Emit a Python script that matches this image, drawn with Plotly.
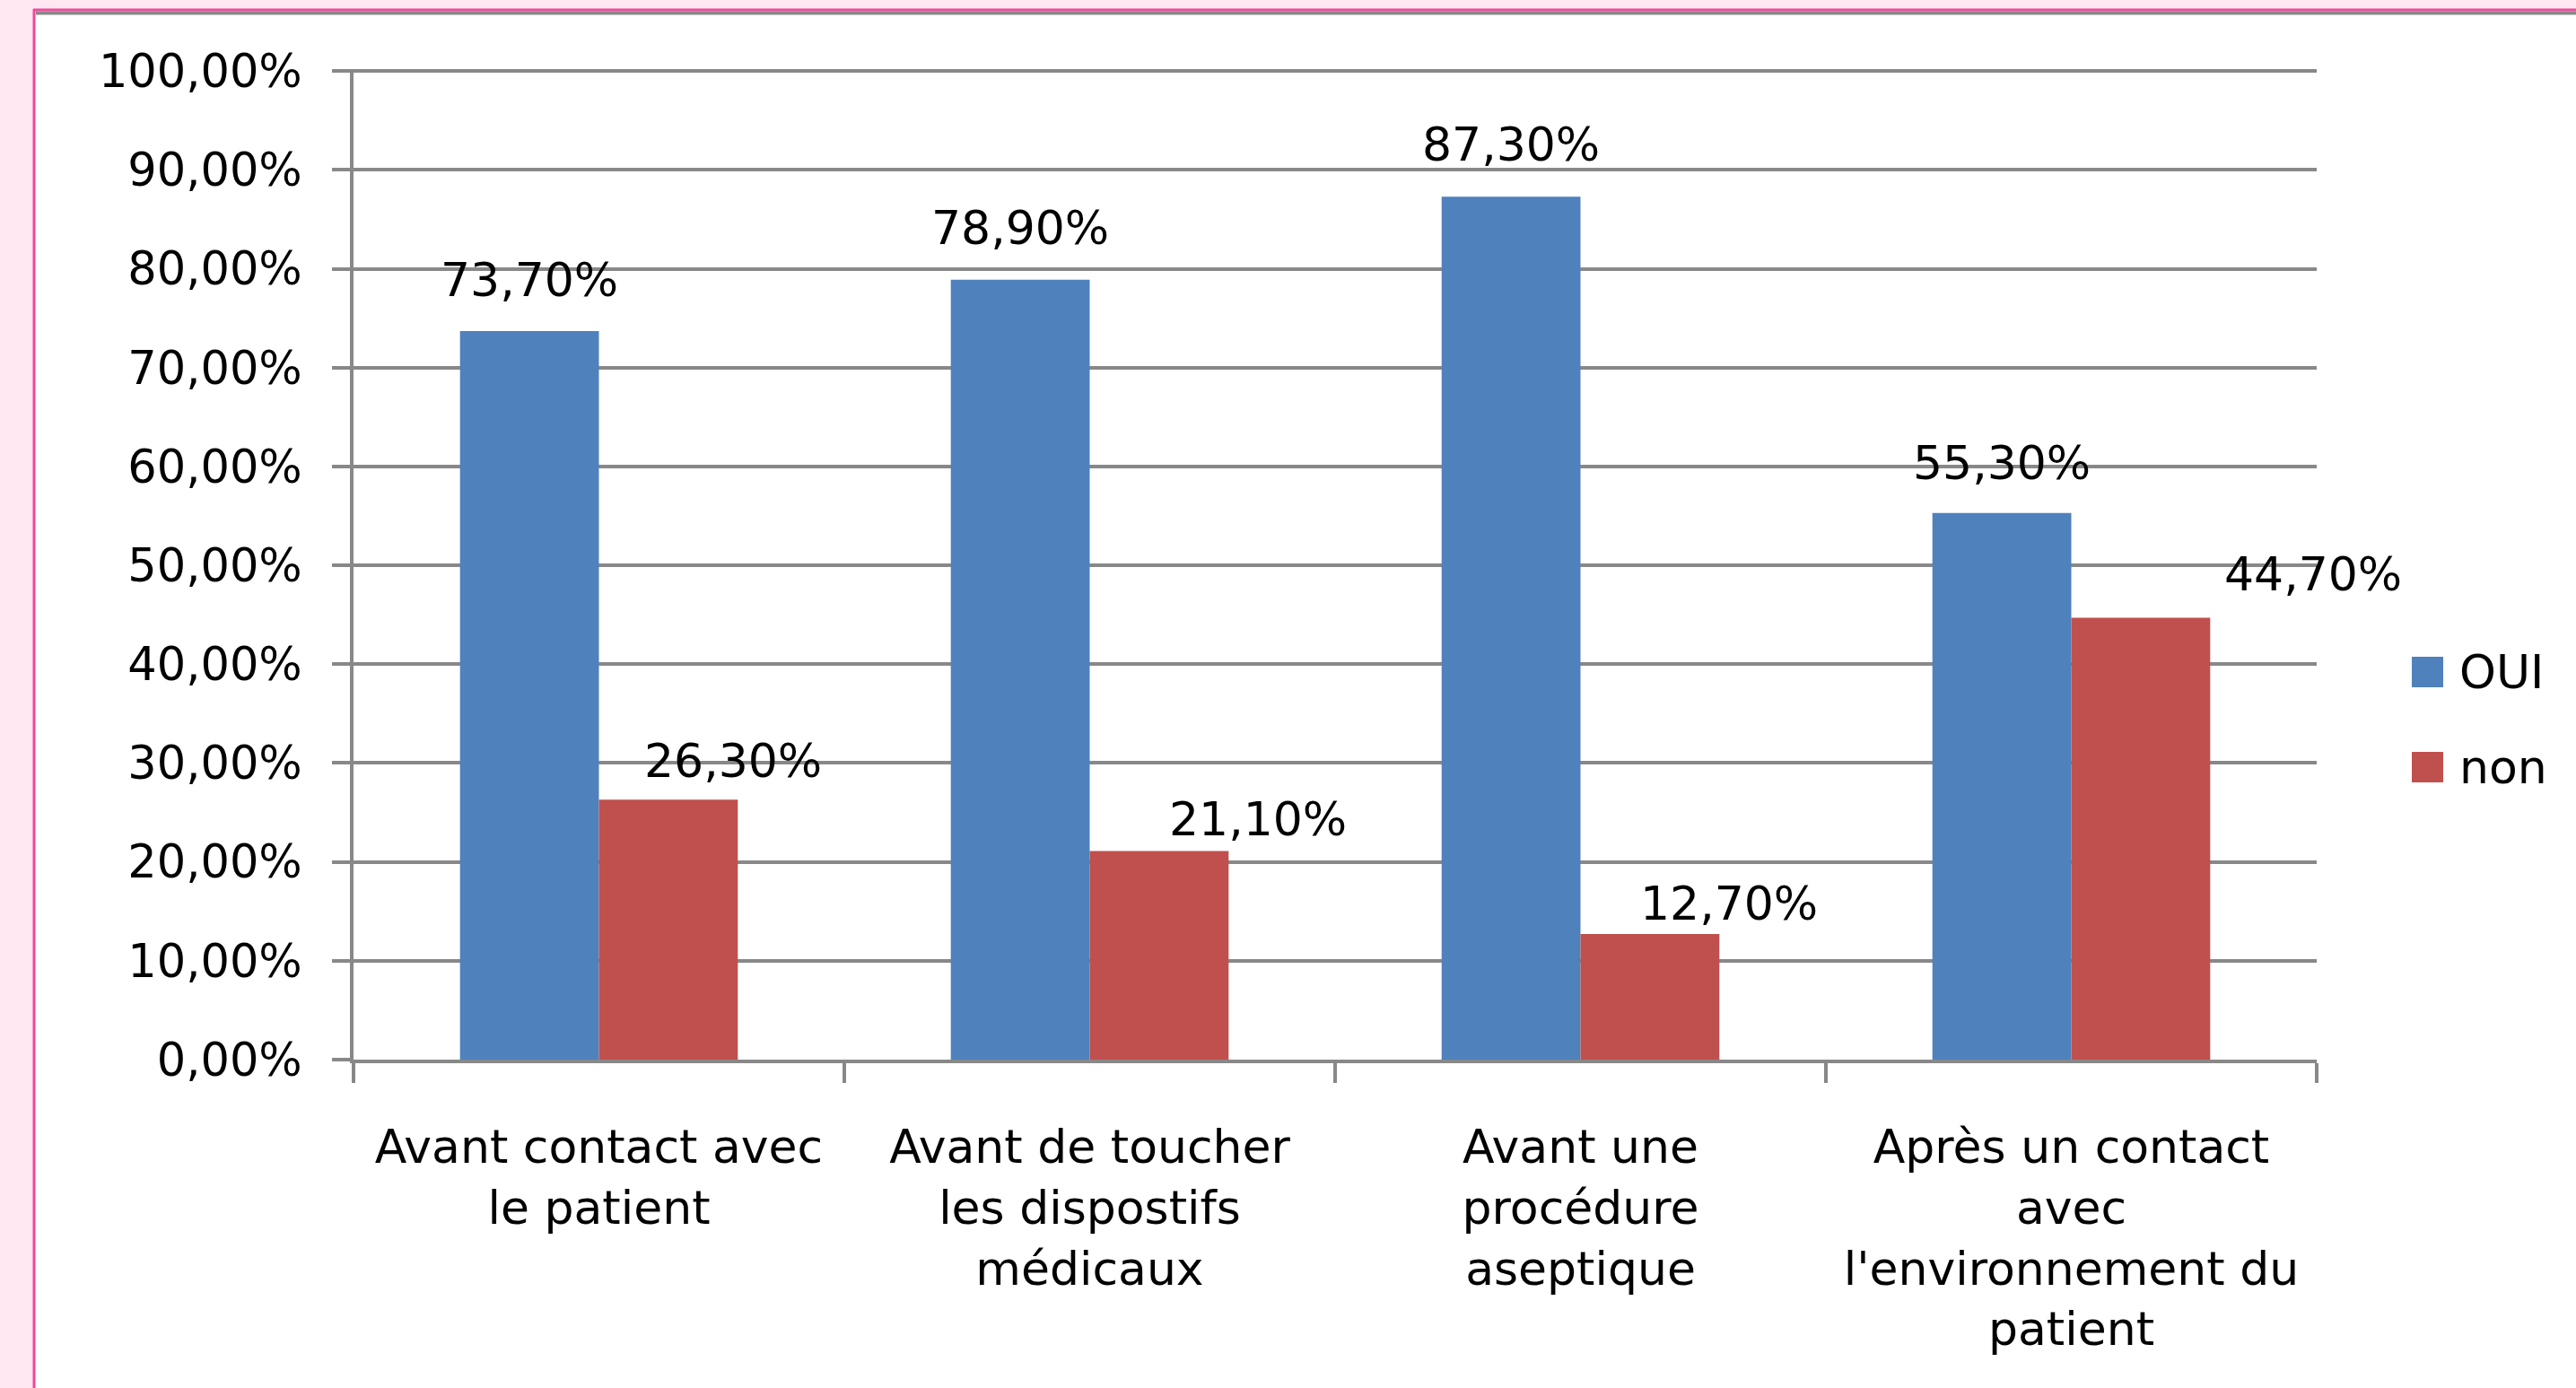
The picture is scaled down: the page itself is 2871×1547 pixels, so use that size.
import plotly.graph_objects as go

# ---------------- data ----------------
categories = [
    "Avant contact avec<br>le patient",
    "Avant de toucher<br>les dispostifs<br>médicaux",
    "Avant une<br>procédure<br>aseptique",
    "Après un contact<br>avec<br>l'environnement du<br>patient",
]
series_names = ["OUI", "non"]
oui_values = [0.737, 0.789, 0.873, 0.553]
non_values = [0.263, 0.211, 0.127, 0.447]
y_tick_values = [0.0, 0.1, 0.2, 0.3, 0.4, 0.5, 0.6, 0.7, 0.8, 0.9, 1.0]
y_tick_labels = ["0,00%", "10,00%", "20,00%", "30,00%", "40,00%", "50,00%",
                 "60,00%", "70,00%", "80,00%", "90,00%", "100,00%"]

# ---------------- style ----------------
W, H = 2871, 1547
ML, MR, MT, MB = 394, 289, 77, 366
PW, PH = W - ML - MR, H - MT - MB
BLUE, RED = "#4F81BD", "#C0504D"
GRID = "#888888"
PINK_BG, PINK_LINE = "#FFE8F2", "#F0489A"
TICK_FONT = dict(family="DejaVu Sans", size=51, color="#000000")
NUM_FONT = dict(family="DejaVu Sans", size=52, color="#000000")
CAT_FONT = dict(family="DejaVu Sans", size=52, color="#000000")

# label offsets (pixels) for the value labels, relative to each bar's centre
blue_label_dx = [0, 0, 0, 0]
blue_label_dy = [57, 58, 58, 56]
red_label_dx = [72, 110, 88, 192]
red_label_dy = [43, 36, 34, 49]
half_bar = 77.5


def px2x(px):
    return (px - ML) / PW


def px2y(py):
    return (H - MB - py) / PH


def fmt(v):
    return f"{v * 100:.2f}".replace(".", ",") + "%"


fig = go.Figure()
fig.add_trace(go.Bar(x=categories, y=oui_values, name=series_names[0],
                     marker=dict(color=BLUE, line=dict(width=0))))
fig.add_trace(go.Bar(x=categories, y=non_values, name=series_names[1],
                     marker=dict(color=RED, line=dict(width=0))))

annotations = []
for i, c in enumerate(categories):
    annotations.append(dict(x=c, y=oui_values[i], xref="x", yref="y",
                            text=fmt(oui_values[i]), showarrow=False,
                            xshift=-half_bar + blue_label_dx[i], yshift=blue_label_dy[i],
                            font=NUM_FONT, xanchor="center", yanchor="middle"))
    annotations.append(dict(x=c, y=non_values[i], xref="x", yref="y",
                            text=fmt(non_values[i]), showarrow=False,
                            xshift=half_bar + red_label_dx[i], yshift=red_label_dy[i],
                            font=NUM_FONT, xanchor="center", yanchor="middle"))

# manual legend
legend_rows = [(series_names[0], BLUE, 749), (series_names[1], RED, 855)]
shapes = [
    dict(type="rect", xref="paper", yref="paper", layer="below",
         x0=px2x(37), x1=px2x(W + 50), y0=px2y(H + 50), y1=px2y(11),
         fillcolor="#FFFFFF", line=dict(width=0)),
    dict(type="line", xref="paper", yref="paper", layer="below",
         x0=px2x(38), x1=px2x(38), y0=px2y(H + 50), y1=px2y(10),
         line=dict(color=PINK_LINE, width=3)),
    dict(type="line", xref="paper", yref="paper", layer="below",
         x0=px2x(37), x1=px2x(W + 50), y0=px2y(11), y1=px2y(11),
         line=dict(color=PINK_LINE, width=3)),
    dict(type="line", xref="paper", yref="paper", layer="below",
         x0=px2x(40), x1=px2x(W + 50), y0=px2y(14.5), y1=px2y(14.5),
         line=dict(color=GRID, width=4)),
]
for name, col, cy in legend_rows:
    shapes.append(dict(type="rect", xref="paper", yref="paper",
                       x0=px2x(2688), x1=px2x(2723), y0=px2y(cy + 17), y1=px2y(cy - 17),
                       fillcolor=col, line=dict(width=0)))
    annotations.append(dict(x=px2x(2739), y=px2y(cy), xref="paper", yref="paper",
                            text=name, showarrow=False, xanchor="left", yanchor="middle",
                            font=NUM_FONT))

fig.update_layout(
    width=W, height=H, autosize=False,
    margin=dict(l=ML, r=MR, t=MT, b=MB, pad=0, autoexpand=False),
    paper_bgcolor=PINK_BG, plot_bgcolor="#FFFFFF",
    barmode="group", bargap=0.434, bargroupgap=0,
    showlegend=False,
    shapes=shapes, annotations=annotations,
    xaxis=dict(type="category", range=[-0.5, len(categories) - 0.5],
               tickson="boundaries", ticks="outside", ticklen=22,
               tickwidth=4, tickcolor=GRID, showline=True, linewidth=4, linecolor=GRID,
               showgrid=False, tickfont=CAT_FONT, ticklabelstandoff=49, automargin=False),
    yaxis=dict(range=[0, 1.002], tickvals=y_tick_values, ticktext=y_tick_labels,
               showgrid=True, gridcolor=GRID, gridwidth=4, ticks="outside", ticklen=20,
               tickwidth=4, tickcolor=GRID, showline=True, linewidth=4, linecolor=GRID,
               zeroline=False, tickfont=TICK_FONT, ticklabelstandoff=23, automargin=False),
)

fig.write_html(
    "out.html",
    config={"displayModeBar": False},
    post_script="document.body.style.margin='0';document.body.style.background='%s';" % PINK_BG,
)
